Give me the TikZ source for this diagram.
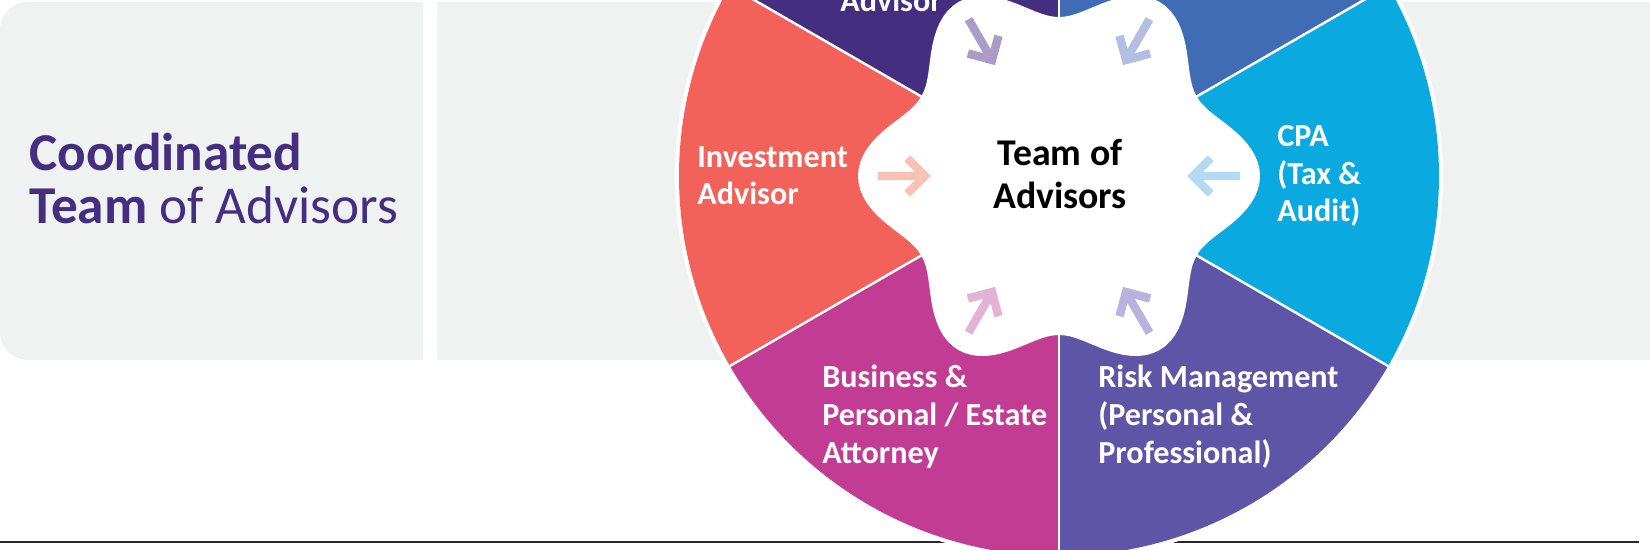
\documentclass[tikz,border=0pt]{standalone}
\usepackage{fontspec}
\setmainfont{Carlito}
\usetikzlibrary{positioning}

\definecolor{panelgray}{RGB}{240,241,241}
\definecolor{titlepurple}{RGB}{67,46,128}
\definecolor{rulegray}{RGB}{40,40,40}
% wheel segments
\definecolor{segadvisor}{RGB}{67,46,128}
\definecolor{segbank}{RGB}{63,108,180}
\definecolor{segcpa}{RGB}{10,169,224}
\definecolor{segrisk}{RGB}{94,85,166}
\definecolor{segattorney}{RGB}{194,60,147}
\definecolor{seginvest}{RGB}{242,97,90}
% inward arrows
\definecolor{arrcpa}{RGB}{180,218,243}
\definecolor{arrbank}{RGB}{178,190,226}
\definecolor{arradvisor}{RGB}{169,157,199}
\definecolor{arrinvest}{RGB}{248,193,181}
\definecolor{arrattorney}{RGB}{227,179,214}
\definecolor{arrrisk}{RGB}{184,178,220}

\begin{document}
\begin{tikzpicture}[x=0.02cm, y=0.02cm,
  seglabel/.style={text=white, font=\fontsize{18.3}{21.6}\selectfont\bfseries,
    align=left, anchor=base west, inner sep=0pt},
  hubtext/.style={text=black, font=\fontsize{21.5}{24.5}\selectfont\bfseries,
    align=center, anchor=base, inner sep=0pt},
  titletext/.style={text=titlepurple, font=\fontsize{30.3}{30.7}\selectfont,
    align=left, anchor=base west, inner sep=0pt},
  divider/.style={white, line width=1.4pt},
  inarrow/.style={line width=4.8pt, line join=miter, line cap=butt}]

\useasboundingbox (0,0) rectangle (1650,-550);

% Panels
\fill[panelgray] (423,-2) -- (28,-2) arc (90:180:28) -- (0,-332)
  arc (180:270:28) -- (423,-360) -- cycle;
\fill[panelgray] (437,-2) rectangle (1650,-360);

% Rule
\draw[rulegray, line width=1.2pt] (0,-542) -- (1639,-542);

% Title (base = last line)
\node[titletext] (title) at (29,-224) {\textbf{Coordinated}\\\textbf{Team} of Advisors};

% Wheel
\coordinate (ctr) at (1059,-176);
\fill[white] (ctr) circle (384);

\foreach \s/\c in {90/segadvisor, 150/seginvest, 210/segattorney,
                   270/segrisk, 330/segcpa, 30/segbank}
  \fill[\c] (ctr) -- ++(\s:380) arc (\s:\s+60:380) -- cycle;

\foreach \s in {30,90,...,330}
  \draw[divider] (ctr) -- ++(\s:380);

% Hub
\fill[white, shift={(ctr)}] plot[domain=0:358, samples=180, variable=\t]
  (\t:{180+21*cos(6*\t)}) -- cycle;

% Arrows into the hub
\begin{scope}[shift={(ctr)}]
\foreach \a/\c in {0/arrcpa, 60/arrbank, 120/arradvisor,
                   180/arrinvest, 240/arrattorney, 300/arrrisk} {
  \coordinate (tail\a) at (\a:181);
  \coordinate (tip\a) at (\a:134);
  \draw[inarrow, \c] (tail\a) -- (tip\a) ++(\a+45:25) -- (tip\a) -- ++(\a-45:25);
}
\end{scope}

% Labels
\node[hubtext] (hub) at (1060,-209) {Team of\\Advisors};

\node[seglabel] (advisor) at (840,-12) {Advisor};
\node[seglabel] (invest) at (697,-205) {Investment\\Advisor};
\node[seglabel] (cpa) at (1277,-222) {CPA\\(Tax \&\\Audit)};
\node[seglabel] (attorney) at (822,-463) {Business \&\\Personal / Estate\\Attorney};
\node[seglabel] (risk) at (1098,-463) {Risk Management\\(Personal \&\\Professional)};

\end{tikzpicture}
\end{document}
